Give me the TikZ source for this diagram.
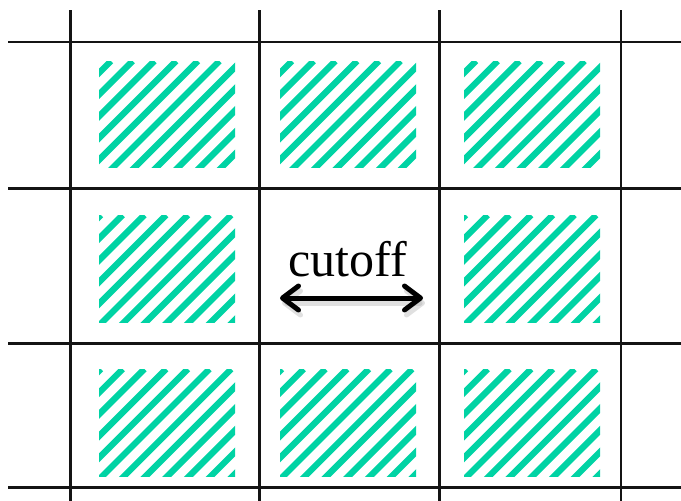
\documentclass[tikz,border=0pt]{standalone}
\usepackage{fontspec}
\setmainfont{Liberation Serif}
\usetikzlibrary{arrows.meta}
\definecolor{hatchgreen}{RGB}{0,211,164}
\definecolor{gridline}{RGB}{20,20,20}
\tikzset{
  gridrule/.style={draw=gridline, line width=2.6pt},
  stripe/.style={draw=hatchgreen, line width=6.3pt},
  cutarrow/.style={line width=5pt, line cap=round,
    {Straight Barb[length=16pt,width=24pt,line width=5pt,round]}-{Straight Barb[length=16pt,width=24pt,line width=5pt,round]}},
}
\newcommand{\hatchrect}[5]{%
  \begin{scope}
    \clip (#1,#2) rectangle (#3,#4);
    \foreach \k in {0,...,12} {
      \pgfmathsetmacro{\s}{#1+#5+21.7*\k}
      \draw[stripe] (\s,#2) -- ({\s-140},{#2+140});
    }
  \end{scope}}
\begin{document}
\begin{tikzpicture}[x=1pt,y=-1pt]
  \useasboundingbox (0,0) rectangle (681,501);
  % hatched rectangles
  \foreach \ya/\yb/\ph in {61/167.5/12, 369/476.5/2} {
    \hatchrect{99}{\ya}{235}{\yb}{\ph}
    \hatchrect{280}{\ya}{416}{\yb}{\ph}
    \hatchrect{464}{\ya}{600}{\yb}{\ph}
  }
  \hatchrect{99}{215}{235}{322.5}{2}
  \hatchrect{464}{215}{600}{322.5}{2}
  % grid
  \foreach \y in {42,188.5,343.5,487.5}
    \draw[gridrule] (8,\y) -- (681,\y);
  \foreach \x in {70.5,259.5,439.5,621}
    \draw[gridrule] (\x,10) -- (\x,501);
  % label and arrow
  \node[anchor=base, font=\fontsize{50}{60}\selectfont, inner sep=0pt] (cut) at (348,276) {cutoff};
  \coordinate (aL) at (280,298);
  \coordinate (aR) at (423,298);
  \coordinate (sL) at (282,303);
  \coordinate (sR) at (425,303);
  \draw[cutarrow, draw=black!35, opacity=0.35] (sL) -- (sR);
  \draw[cutarrow, draw=black] (aL) -- (aR);
\end{tikzpicture}
\end{document}
